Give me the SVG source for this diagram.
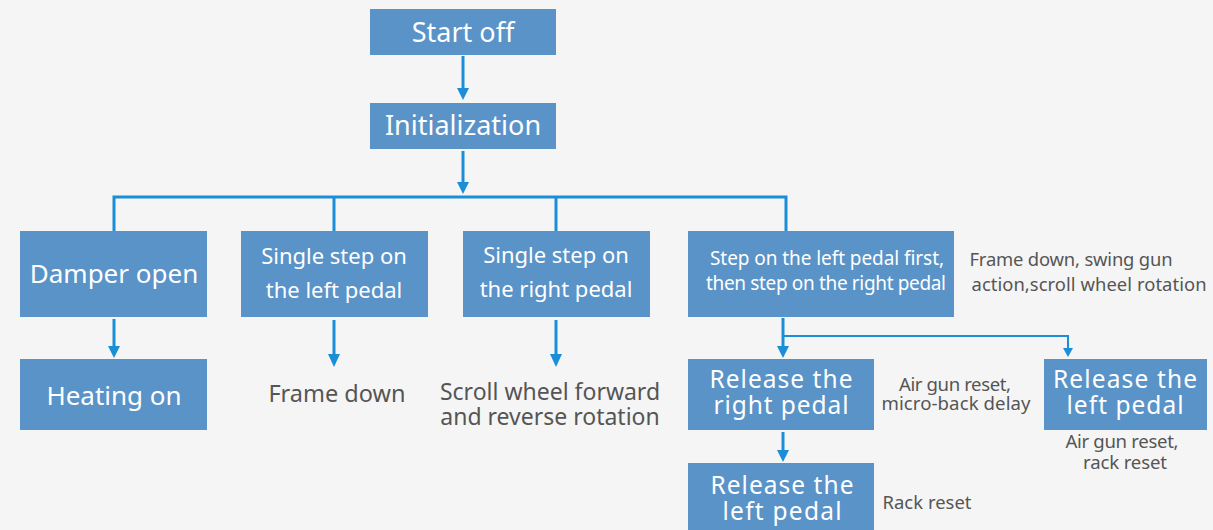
<svg xmlns="http://www.w3.org/2000/svg" width="1213" height="530" viewBox="0 0 1213 530">
<style>
.box{fill:#5a93c8;}
.t{font-family:"Noto Sans","Open Sans",sans-serif;fill:#ffffff;text-anchor:middle;}
.lbl{font-family:"Noto Sans","Open Sans",sans-serif;fill:#555555;text-anchor:middle;}
.ln{fill:none;stroke:#1a8fd8;stroke-width:3;}
.ah{fill:#1a8fd8;}
</style>
<rect x="0" y="0" width="1213" height="530" fill="#f5f5f5"/>
<g id="connectors">
<line class="ln" x1="463" y1="56" x2="463" y2="88"/>
<path class="ah" d="M457,88 L469,88 L463,100 Z"/>
<line class="ln" x1="463" y1="151" x2="463" y2="182"/>
<path class="ah" d="M457,182 L469,182 L463,194 Z"/>
<path class="ln" d="M114,231 V197 H786 V231"/>
<line class="ln" x1="334" y1="197" x2="334" y2="231"/>
<line class="ln" x1="556" y1="197" x2="556" y2="231"/>
<line class="ln" x1="114" y1="319" x2="114" y2="346"/>
<path class="ah" d="M108,346 L120,346 L114,358 Z"/>
<line class="ln" x1="334" y1="320" x2="334" y2="354"/>
<path class="ah" d="M328,354 L340,354 L334,367 Z"/>
<line class="ln" x1="556" y1="320" x2="556" y2="354"/>
<path class="ah" d="M550,354 L562,354 L556,367 Z"/>
<line class="ln" x1="783" y1="318" x2="783" y2="346"/>
<path class="ah" d="M777,346 L789,346 L783,358 Z"/>
<path class="ln" d="M783,336 H1068 V349" style="stroke-width:2"/>
<path class="ah" d="M1063,348 L1073,348 L1068,357 Z"/>
<line class="ln" x1="783" y1="432" x2="783" y2="451"/>
<path class="ah" d="M777,450 L789,450 L783,462 Z"/>
</g>
<g id="start">
<rect class="box" x="370" y="9" width="186" height="46"/>
<text class="t" x="463" y="42" font-size="27">Start off</text>
</g>
<g id="init">
<rect class="box" x="370" y="103" width="186" height="46"/>
<text class="t" x="463" y="135" font-size="27">Initialization</text>
</g>
<g id="damper">
<rect class="box" x="20" y="231" width="187" height="86"/>
<text class="t" x="114" y="283" font-size="26">Damper open</text>
</g>
<g id="heating">
<rect class="box" x="20" y="359" width="187" height="71"/>
<text class="t" x="114" y="405" font-size="26">Heating on</text>
</g>
<g id="leftpedal">
<rect class="box" x="241" y="231" width="187" height="86"/>
<text class="t" font-size="22"><tspan x="334" y="264">Single step on</tspan><tspan x="334" y="298">the left pedal</tspan></text>
</g>
<g id="framedown">
<text class="lbl" x="337" y="402" font-size="23.5">Frame down</text>
</g>
<g id="rightpedal">
<rect class="box" x="463" y="231" width="187" height="86"/>
<text class="t" font-size="22"><tspan x="556" y="263">Single step on</tspan><tspan x="556" y="297">the right pedal</tspan></text>
</g>
<g id="scroll">
<text class="lbl" x="550" y="400" font-size="23">Scroll wheel forward</text>
<text class="lbl" x="550" y="425" font-size="23">and reverse rotation</text>
</g>
<g id="both">
<rect class="box" x="688" y="231" width="266" height="86"/>
<text class="t" x="827" y="265" font-size="19" textLength="234" lengthAdjust="spacing">Step on the left pedal first,</text>
<text class="t" x="826" y="290" font-size="19" textLength="240" lengthAdjust="spacing">then step on the right pedal</text>
<text class="lbl" x="1071" y="266" font-size="18.4" textLength="203" lengthAdjust="spacing">Frame down, swing gun</text>
<text class="lbl" x="1089" y="291" font-size="18.4" textLength="235" lengthAdjust="spacing">action,scroll wheel rotation</text>
</g>
<g id="releaseright">
<rect class="box" x="688" y="359" width="186" height="71"/>
<text class="t" x="781" y="388" font-size="24.5" textLength="143" lengthAdjust="spacing">Release the</text>
<text class="t" x="781" y="414" font-size="24.5" textLength="135" lengthAdjust="spacing">right pedal</text>
<text class="lbl" x="955" y="391" font-size="18.6" textLength="112" lengthAdjust="spacing">Air gun reset,</text>
<text class="lbl" x="956" y="410" font-size="18.6" textLength="149" lengthAdjust="spacing">micro-back delay</text>
</g>
<g id="releaseleft2">
<rect class="box" x="1044" y="359" width="163" height="71"/>
<text class="t" x="1125" y="388" font-size="24.5" textLength="144" lengthAdjust="spacing">Release the</text>
<text class="t" x="1125" y="414" font-size="24.5" textLength="117" lengthAdjust="spacing">left pedal</text>
<text class="lbl" x="1122" y="448" font-size="18.6" textLength="113" lengthAdjust="spacing">Air gun reset,</text>
<text class="lbl" x="1125" y="469" font-size="18.6" textLength="84" lengthAdjust="spacing">rack reset</text>
</g>
<g id="releaseleft">
<rect class="box" x="688" y="463" width="186" height="70"/>
<text class="t" x="782" y="494" font-size="24.5" textLength="143" lengthAdjust="spacing">Release the</text>
<text class="t" x="782" y="520" font-size="24.5" textLength="119" lengthAdjust="spacing">left pedal</text>
<text class="lbl" x="927" y="509" font-size="18.4" textLength="89" lengthAdjust="spacing">Rack reset</text>
</g>
</svg>
